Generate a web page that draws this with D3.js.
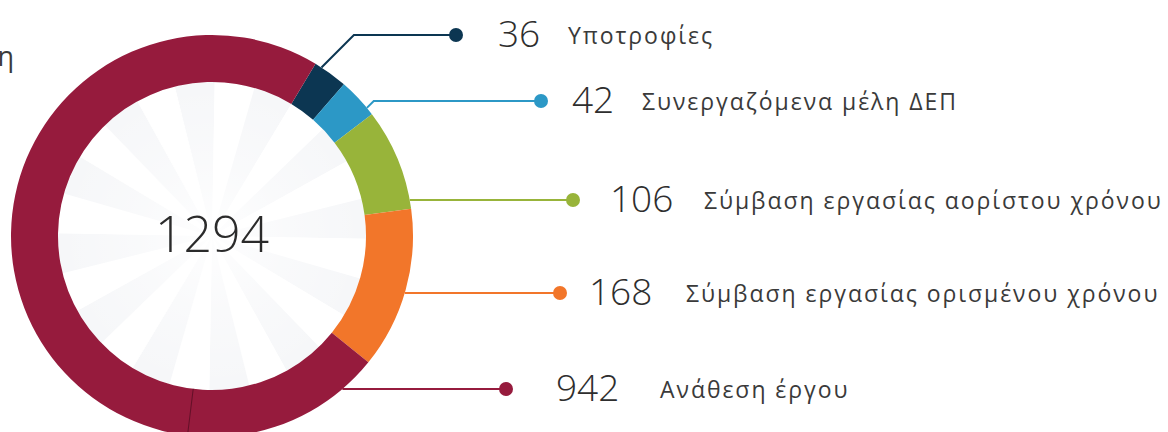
<!DOCTYPE html>
<html>
<head>
<meta charset="utf-8">
<script src="https://cdn.jsdelivr.net/npm/d3@7"></script>
<style>
  html, body { margin: 0; padding: 0; background: #fff; overflow: hidden; }
  svg { display: block; }
</style>
</head>
<body>
<svg id="chart"></svg>
<script>
// Staff categories, top to bottom as in the legend
const categories = ["Υποτροφίες", "Συνεργαζόμενα μέλη ΔΕΠ", "Σύμβαση εργασίας αορίστου χρόνου", "Σύμβαση εργασίας ορισμένου χρόνου", "Ανάθεση έργου"];
const values = [36, 42, 106, 168, 942];
const colors = ["#0c3652", "#2c98c6", "#98b43a", "#f2762a", "#961b3d"];

class DonutChart {
    constructor(_config) {
        this.config = {
            parentElement: _config.parentElement,
            containerWidth: 1168,
            containerHeight: 432,
            cx: 212,
            cy: 236,
            outerRadius: 201,
            innerRadius: 154,
            startDeg: 31,
            // label rows (layout only)
            rowY: [35, 101, 200, 293, 389],
            dotX: [456, 541, 573, 560, 506],
            numX: [498, 572, 610, 589, 556],
            textX: [568, 642, 704, 686, 660],
            anchorDeg: [33, 50.4, null, null, null]
        };
        this.initVis();
    }

    initVis() {
        let vis = this;
        const c = vis.config;

        vis.svg = d3.select(c.parentElement)
            .attr('width', c.containerWidth)
            .attr('height', c.containerHeight);

        const defs = vis.svg.append('defs');
        const grad = defs.append('radialGradient').attr('id', 'fade');
        grad.append('stop').attr('offset', '0%').attr('stop-color', '#fff').attr('stop-opacity', 0.9);
        grad.append('stop').attr('offset', '50%').attr('stop-color', '#fff').attr('stop-opacity', 0.35);
        grad.append('stop').attr('offset', '100%').attr('stop-color', '#fff').attr('stop-opacity', 0);

        vis.chart = vis.svg.append('g')
            .attr('transform', `translate(${c.cx},${c.cy})`);

        vis.rad = d => d * Math.PI / 180;

        vis.pie = d3.pie()
            .sort(null)
            .value(d => d.value)
            .startAngle(vis.rad(c.startDeg))
            .endAngle(vis.rad(c.startDeg + 360));

        vis.arc = d3.arc()
            .innerRadius(c.innerRadius)
            .outerRadius(c.outerRadius);

        vis.data = categories.map((k, i) => ({ key: k, value: values[i], color: colors[i], row: i }));

        vis.renderVis();
    }

    renderVis() {
        let vis = this;
        const c = vis.config;

        // faint sunburst inside the ring
        const rays = d3.range(24);
        const rayArc = d3.arc().innerRadius(0).outerRadius(c.innerRadius);
        vis.chart.selectAll('.ray')
            .data(rays)
            .join('path')
            .attr('class', 'ray')
            .attr('fill', (d, i) => i % 2 === 0 ? '#f6f7f9' : '#ffffff')
            .attr('d', (d, i) => rayArc({ startAngle: vis.rad(-14 + i * 15), endAngle: vis.rad(1 + i * 15) }));
        vis.chart.append('circle')
            .attr('r', c.innerRadius)
            .attr('fill', 'url(#fade)');

        // ring slices
        const arcs = vis.pie(vis.data);
        vis.chart.selectAll('.arc')
            .data(arcs)
            .join('path')
            .attr('class', 'arc')
            .attr('fill', d => d.data.color)
            .attr('d', vis.arc);

        // thin seam in the large slice
        const seam = vis.rad(187);
        vis.chart.append('line')
            .attr('x1', c.innerRadius * Math.sin(seam))
            .attr('y1', -c.innerRadius * Math.cos(seam))
            .attr('x2', (c.outerRadius + 2) * Math.sin(seam))
            .attr('y2', -(c.outerRadius + 2) * Math.cos(seam))
            .attr('stroke', '#4e0c1f')
            .attr('stroke-width', 1)
            .attr('opacity', 0.7);

        // total in the middle
        vis.chart.append('text')
            .attr('x', 0)
            .attr('y', 16)
            .attr('text-anchor', 'middle')
            .style('font-family', "'Open Sans', sans-serif")
            .style('font-weight', 300)
            .style('font-size', '50px')
            .attr('fill', '#2b2b2b')
            .text(d3.sum(values));

        // leader lines, dots and labels
        const R = c.outerRadius;
        const leader = d => {
            const i = d.row;
            const y = c.rowY[i];
            let a = c.anchorDeg[i];
            if (a === null) a = Math.acos((c.cy - y) / R) * 180 / Math.PI;
            const ax = c.cx + R * Math.sin(vis.rad(a));
            const ay = c.cy - R * Math.cos(vis.rad(a));
            const ex = ax + Math.abs(ay - y);
            return d3.line()([[ax, ay], [ex, y], [c.dotX[i], y]]);
        };

        const rows = vis.svg.selectAll('.row')
            .data(vis.data)
            .join('g')
            .attr('class', 'row');

        rows.append('path')
            .attr('d', leader)
            .attr('fill', 'none')
            .attr('stroke', d => d.color)
            .attr('stroke-width', 2);

        rows.append('circle')
            .attr('cx', d => c.dotX[d.row])
            .attr('cy', d => c.rowY[d.row])
            .attr('r', 7)
            .attr('fill', d => d.color);

        rows.append('text')
            .attr('x', d => c.numX[d.row])
            .attr('y', d => c.rowY[d.row] + 12)
            .style('font-family', "'Open Sans', sans-serif")
            .style('font-weight', 300)
            .style('font-size', '37px')
            .attr('fill', '#2e2e2e')
            .text(d => d.value);

        rows.append('text')
            .attr('x', d => c.textX[d.row])
            .attr('y', d => c.rowY[d.row] + 9)
            .style('font-family', "'Open Sans', sans-serif")
            .style('font-size', '23px')
            .style('letter-spacing', '1.95px')
            .attr('fill', '#3a3a3a')
            .text(d => d.key);

        // cut-off title fragment at the top-left
        vis.svg.append('text')
            .attr('x', 14)
            .attr('y', 66)
            .attr('text-anchor', 'end')
            .style('font-family', "'Open Sans', sans-serif")
            .style('font-size', '27px')
            .attr('fill', '#3a3a3a')
            .text('η');
    }
}

new DonutChart({ parentElement: '#chart' });
</script>
</body>
</html>
